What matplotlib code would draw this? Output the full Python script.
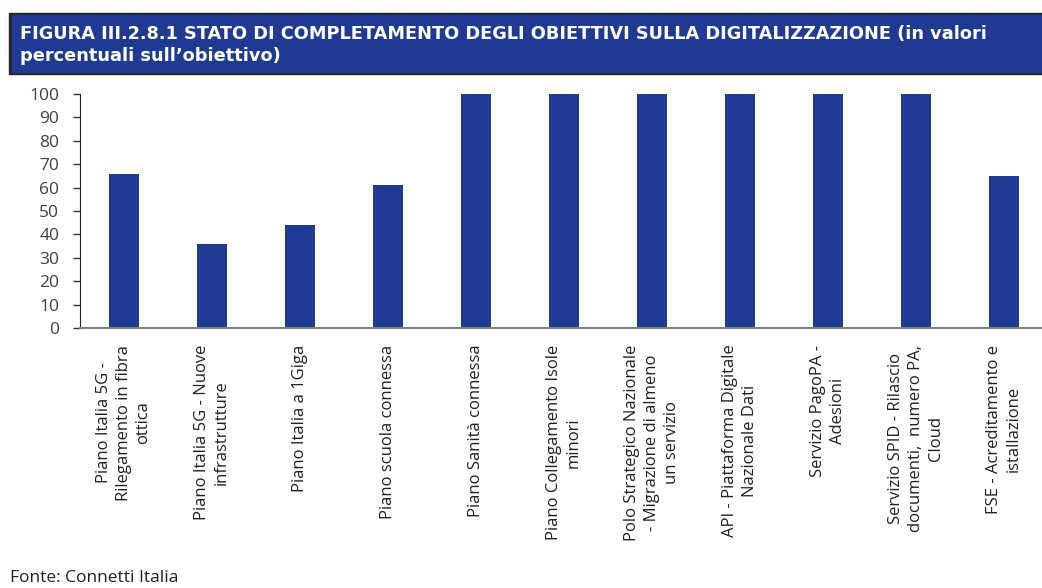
import matplotlib.pyplot as plt
from matplotlib.patches import Rectangle

# Dati
categorie = [
    "Piano Italia 5G -\nRilegamento in fibra\nottica",
    "Piano Italia 5G - Nuove\ninfrastrutture",
    "Piano Italia a 1Giga",
    "Piano scuola connessa",
    "Piano Sanità connessa",
    "Piano Collegamento Isole\nminori",
    "Polo Strategico Nazionale\n- Migrazione di almeno\nun servizio",
    "API - Piattaforma Digitale\nNazionale Dati",
    "Servizio PagoPA -\nAdesioni",
    "Servizio SPID - Rilascio\ndocumenti,  numero PA,\nCloud",
    "FSE - Acreditamento e\nistallazione",
]
valori = [66, 36, 44, 61, 100, 100, 100, 100, 100, 100, 65]
tick_y = list(range(0, 101, 10))

blu = "#1F3A93"
W, H = 1042, 588
fig = plt.figure(figsize=(W / 100, H / 100), dpi=100)

# Banner del titolo
fig.patches.append(Rectangle((9 / W, 1 - 74 / H), 1033 / W, 61 / H,
                             transform=fig.transFigure, color="#222222", zorder=0))
fig.patches.append(Rectangle((12 / W, 1 - 72 / H), 1030 / W, 57 / H,
                             transform=fig.transFigure, color=blu, zorder=1))
fig.text(20 / W, 1 - 45 / H,
         "FIGURA III.2.8.1 STATO DI COMPLETAMENTO DEGLI OBIETTIVI SULLA DIGITALIZZAZIONE (in valori\npercentuali sull\u2019obiettivo)",
         color="white", fontsize=12.8, fontweight="bold", va="center", ha="left",
         family=["Liberation Sans Narrow", "DejaVu Sans"], linespacing=1.3, zorder=2)

ax = fig.add_axes([80 / W, 1 - 328 / H, 968 / W, 234 / H])
x = range(len(valori))
ax.bar(x, valori, width=0.34, color=blu)
ax.set_xlim(-0.5, len(valori) - 0.5)
ax.set_ylim(0, 100)
ax.set_yticks(tick_y)
ax.set_yticklabels([str(v) for v in tick_y], fontsize=12.5, color="#404040",
                   family=["Open Sans", "DejaVu Sans"])
ax.set_xticks(list(x))
ax.set_xticklabels(categorie, rotation=90, fontsize=12, color="#202020",
                   ha="center", va="top", multialignment="center",
                   family=["Open Sans", "DejaVu Sans"], linespacing=1.3)
ax.tick_params(axis="x", length=0, pad=12)
ax.tick_params(axis="y", length=5, width=1, direction="out", color="#333333", pad=10)
ax.spines["top"].set_visible(False)
ax.spines["right"].set_visible(False)
ax.spines["left"].set_color("#222222")
ax.spines["bottom"].set_color("#808080")
ax.spines["bottom"].set_linewidth(1.5)

fig.text(10 / W, 1 - 578 / H, "Fonte: Connetti Italia", fontsize=12.5, color="#202020",
         va="center", ha="left", family=["Open Sans", "DejaVu Sans"])

fig.savefig("out.png", dpi=100)
